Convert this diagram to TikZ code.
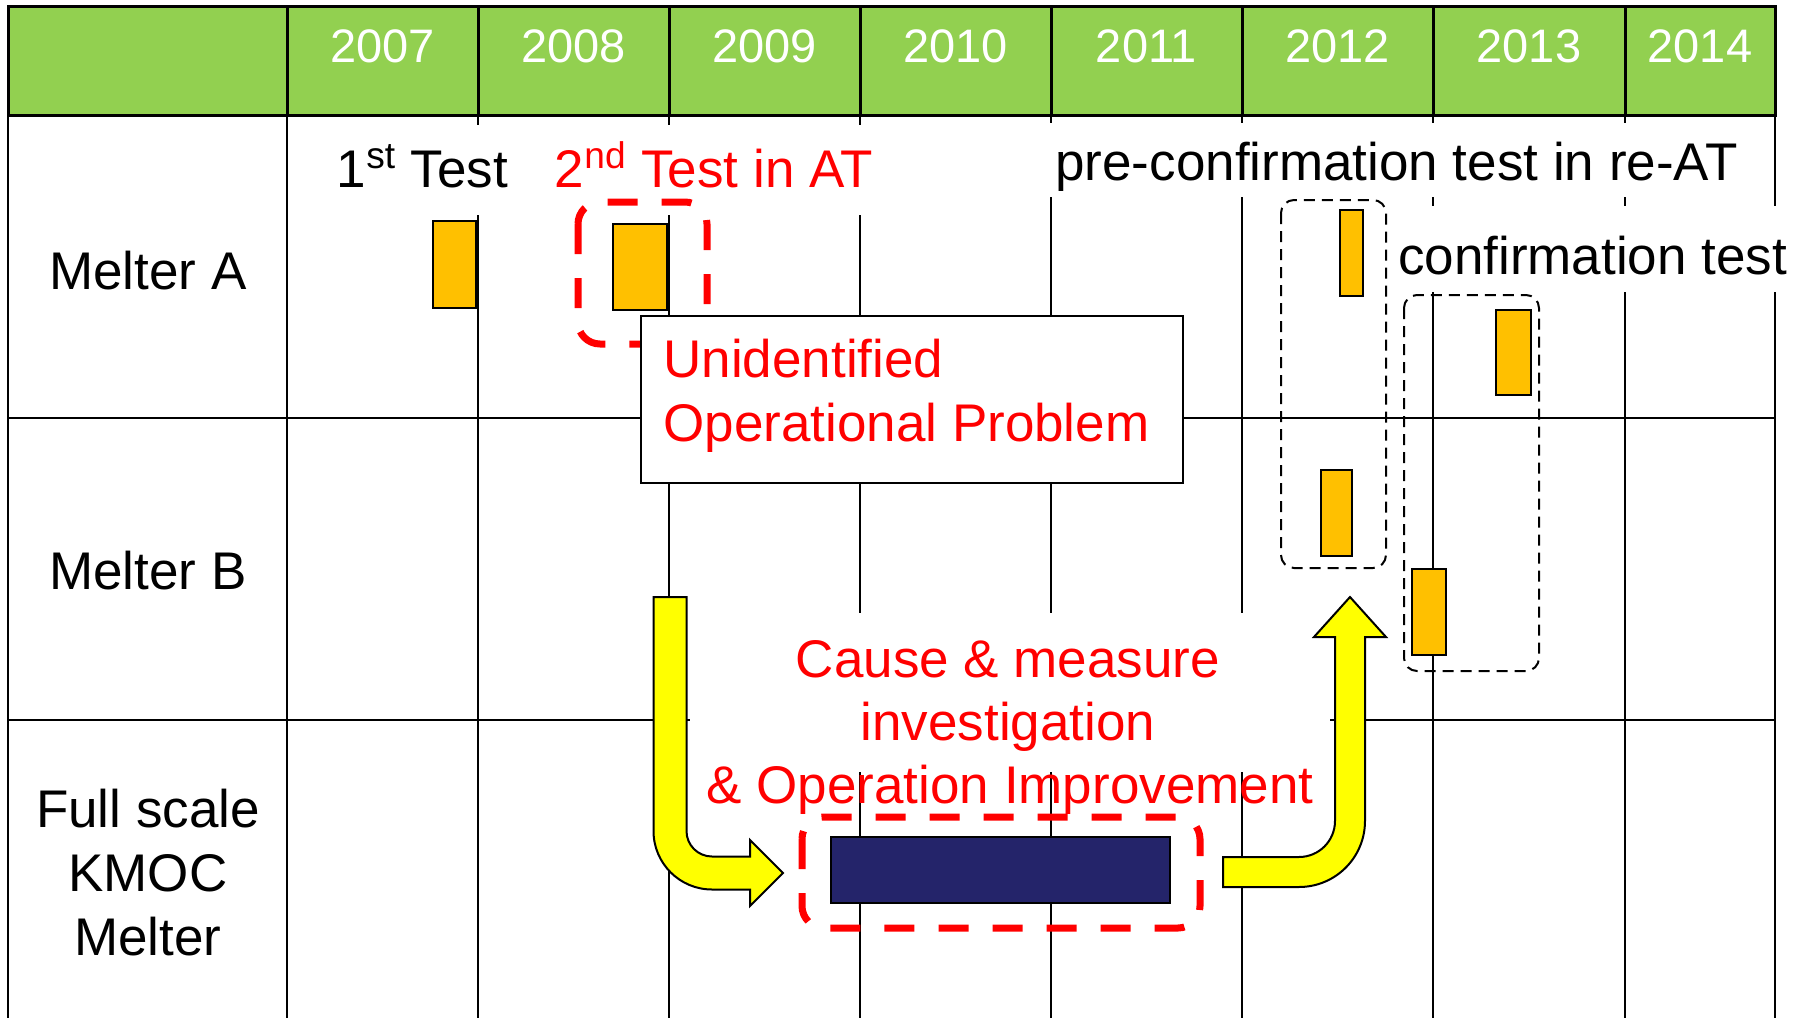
\documentclass[tikz,border=0pt]{standalone}
\usepackage{fontspec}
\setmainfont{Liberation Sans}
\definecolor{headgreen}{HTML}{92D050}
\definecolor{testorange}{HTML}{FFC000}
\definecolor{arrowyellow}{HTML}{FFFF00}
\definecolor{navybar}{HTML}{24246A}
\definecolor{pptred}{HTML}{FF0000}
\begin{document}
\begin{tikzpicture}[x=0.5pt,y=-0.5pt,
  gridline/.style={line width=1pt,black},
  headline/.style={line width=1.5pt,black},
  lbl/.style={font=\fontsize{26.5}{32}\selectfont, inner sep=0pt, anchor=base},
  yr/.style={font=\fontsize{23.5}{28}\selectfont, text=white, inner sep=0pt, anchor=base},
  testbox/.style={draw=black, line width=0.8pt, fill=testorange},
  reddash/.style={draw=pptred, line width=3.5pt, dash pattern=on 15pt off 12pt, rounded corners=11pt},
  blkdash/.style={draw=black, line width=1pt, dash pattern=on 5.5pt off 3.5pt, rounded corners=6.5pt},
  cover/.style={fill=white, draw=none},
  bigarrow/.style={fill=arrowyellow, draw=black, line width=1pt, line join=miter},
]
\useasboundingbox (0,0) rectangle (1796,1018);
\fill[white] (0,0) rectangle (1796,1018);

% header
\fill[headgreen] (8,6) rectangle (1775,115);
\foreach \x in {287,478,669,860,1051,1242,1433,1625}
  \draw[headline] (\x,6) -- (\x,115);
\draw[headline] (8,6) rectangle (1775,115);
\foreach \x/\y/\n in {382.5/2007/ya,573.5/2008/yb,764.5/2009/yc,955.5/2010/yd,1146.5/2011/ye,1337.5/2012/yf,1529/2013/yg,1700/2014/yh}
  \node[yr] (\n) at (\x,62) {\y};

% body grid
\foreach \x in {8,287,478,669,860,1051,1242,1433,1625,1775}
  \draw[gridline] (\x,115) -- (\x,1018);
\draw[gridline] (8,418) -- (1775,418);
\draw[gridline] (8,720) -- (1775,720);

% white text backgrounds
\fill[cover] (330,125) rectangle (515,215);
\fill[cover] (548,125) rectangle (878,215);
\fill[cover] (1044,123) rectangle (1750,197);
\fill[cover] (1394,206) rectangle (1796,292);
\fill[cover] (690,613) rectangle (1330,772);

% row labels
\node[lbl] (ma) at (148,289) {Melter A};
\node[lbl] (mb) at (148,589) {Melter B};
\node[lbl] (fs1) at (148,827) {Full scale};
\node[lbl] (fs2) at (148,891) {KMOC};
\node[lbl] (fs3) at (148,955) {Melter};

% test labels
\node[lbl] (t1) at (422.5,187) {1\textsuperscript{st} Test};
\node[lbl, text=pptred] (t2) at (714,187) {2\textsuperscript{nd} Test in AT};
\node[lbl] (tpre) at (1396.5,180) {pre-confirmation test in re-AT};
\node[lbl] (tconf) at (1592.5,274) {confirmation test};

% test bars
\draw[testbox] (433,221) rectangle (476,308);
\draw[testbox] (613,224) rectangle (667,310);
\draw[testbox] (1340,210) rectangle (1363,296);
\draw[testbox] (1321,470) rectangle (1352,556);
\draw[testbox] (1496,310) rectangle (1531,395);
\draw[testbox] (1412,569) rectangle (1446,655);

% dashed frames
\draw[reddash] (578,202) rectangle (707,344);
\draw[blkdash] (1281,200) rectangle (1386,568);
\draw[blkdash] (1404,295) rectangle (1539,671);

% problem box
\node[draw=black, fill=white, line width=1pt, inner sep=0pt,
      minimum width=271pt, minimum height=83.5pt] (prob) at (912,399.5) {};
\node[lbl, anchor=base west, text=pptred] (prob1) at (663,377) {Unidentified};
\node[lbl, anchor=base west, text=pptred] (prob2) at (663,441) {Operational Problem};

% cause text
\node[lbl, text=pptred] (c1) at (1008,677) {Cause \& measure};
\node[lbl, text=pptred] (c2) at (1008,740) {investigation};
\node[lbl, text=pptred] (c3) at (1010,803) {\& Operation Improvement};

% KMOC bar
\draw[reddash] (802,817) rectangle (1200,928);
\draw[draw=black, line width=0.8pt, fill=navybar] (831,837) rectangle (1170,903);

% left bent arrow
\draw[bigarrow] (653.5,597) -- (653.5,831)
  .. controls (653.5,863.3) and (679.7,889.5) .. (712,889.5)
  -- (750,889.5) -- (750,906) -- (783,873) -- (750,840) -- (750,856.5) -- (712,856.5)
  .. controls (697.9,856.5) and (686.5,845.1) .. (686.5,831)
  -- (686.5,597) -- cycle;

% right bent arrow
\draw[bigarrow] (1223,857) -- (1223,887) -- (1299,887)
  .. controls (1335.5,887) and (1365,857.5) .. (1365,821)
  -- (1365,637) -- (1386,637) -- (1350,597) -- (1314,637) -- (1335,637) -- (1335,821)
  .. controls (1335,840.9) and (1318.9,857) .. (1299,857)
  -- cycle;
\end{tikzpicture}
\end{document}
